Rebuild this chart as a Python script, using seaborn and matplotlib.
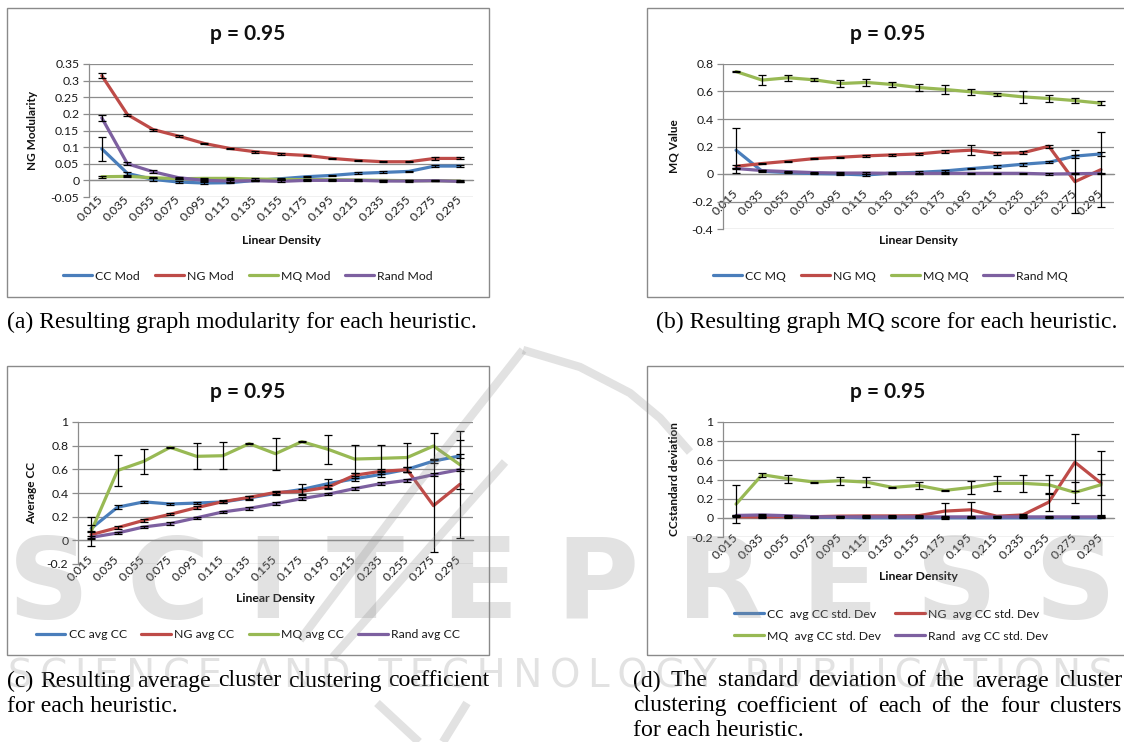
import numpy as np
import pandas as pd
import matplotlib
matplotlib.use("Agg")
import matplotlib.pyplot as plt
import seaborn as sns
from matplotlib.patches import Rectangle
from matplotlib.lines import Line2D
from matplotlib.ticker import FuncFormatter, MultipleLocator

# ---------------- data ----------------
densities = ["0.015", "0.035", "0.055", "0.075", "0.095", "0.115", "0.135", "0.155",
             "0.175", "0.195", "0.215", "0.235", "0.255", "0.275", "0.295"]

# (a) NG modularity
cc_mod = [0.095, 0.021, 0.003, -0.005, -0.008, -0.007, 0.000, 0.005, 0.011, 0.015, 0.021, 0.024, 0.027, 0.043, 0.043]
ng_mod = [0.315, 0.198, 0.153, 0.133, 0.111, 0.096, 0.086, 0.079, 0.075, 0.066, 0.060, 0.056, 0.056, 0.066, 0.066]
mq_mod = [0.011, 0.012, 0.008, 0.005, 0.006, 0.006, 0.004, 0.003, 0.002, 0.002, 0.001, 0.000, -0.001, -0.001, -0.002]
rand_mod = [0.188, 0.050, 0.026, 0.008, 0.000, -0.002, -0.001, -0.003, 0.000, 0.000, 0.000, -0.002, -0.002, -0.001, -0.003]
cc_mod_err = [0.036, 0.004, 0.004, 0.004, 0.002, 0.002, 0.002, 0.002, 0.001, 0.002, 0.003, 0.003, 0.002, 0.003, 0.004]
ng_mod_err = [0.008, 0.003, 0.003, 0.003, 0.002, 0.002, 0.003, 0.002, 0.002, 0.002, 0.002, 0.002, 0.002, 0.004, 0.003]
mq_mod_err = [0.003, 0.002, 0.002, 0.002, 0.002, 0.002, 0.002, 0.002, 0.002, 0.002, 0.002, 0.002, 0.002, 0.002, 0.002]
rand_mod_err = [0.008, 0.005, 0.004, 0.003, 0.002, 0.002, 0.002, 0.003, 0.002, 0.002, 0.002, 0.002, 0.002, 0.002, 0.002]

# (b) MQ value
cc_mq = [0.173, 0.020, 0.010, 0.003, 0.000, -0.007, 0.007, 0.012, 0.022, 0.039, 0.054, 0.071, 0.085, 0.130, 0.146]
ng_mq = [0.056, 0.076, 0.093, 0.112, 0.122, 0.132, 0.139, 0.146, 0.163, 0.173, 0.151, 0.154, 0.202, -0.056, 0.032]
mq_mq = [0.745, 0.683, 0.700, 0.685, 0.658, 0.666, 0.651, 0.629, 0.615, 0.598, 0.580, 0.561, 0.549, 0.534, 0.515]
rand_mq = [0.040, 0.025, 0.017, 0.010, 0.007, 0.007, 0.005, 0.005, 0.005, 0.005, 0.005, 0.005, 0.000, 0.002, 0.005]
cc_mq_err = [0.165, 0.008, 0.005, 0.005, 0.005, 0.005, 0.008, 0.010, 0.005, 0.005, 0.008, 0.012, 0.008, 0.010, 0.012]
ng_mq_err = [0.010, 0.005, 0.005, 0.005, 0.005, 0.005, 0.005, 0.010, 0.010, 0.035, 0.010, 0.012, 0.010, 0.228, 0.275]
mq_mq_err = [0.005, 0.035, 0.022, 0.010, 0.025, 0.025, 0.015, 0.022, 0.030, 0.020, 0.010, 0.045, 0.025, 0.020, 0.015]
rand_mq_err = [0.005, 0.005, 0.005, 0.005, 0.005, 0.005, 0.005, 0.005, 0.005, 0.005, 0.005, 0.005, 0.005, 0.005, 0.005]

# (c) average CC
cc_cc = [0.100, 0.280, 0.325, 0.307, 0.315, 0.324, 0.358, 0.397, 0.430, 0.479, 0.520, 0.557, 0.600, 0.670, 0.713]
ng_cc = [0.048, 0.107, 0.169, 0.220, 0.276, 0.327, 0.363, 0.405, 0.414, 0.450, 0.550, 0.583, 0.597, 0.293, 0.473]
mq_cc = [0.075, 0.590, 0.668, 0.786, 0.710, 0.715, 0.817, 0.732, 0.834, 0.769, 0.687, 0.693, 0.700, 0.797, 0.640]
rand_cc = [0.025, 0.062, 0.113, 0.141, 0.190, 0.240, 0.270, 0.310, 0.352, 0.390, 0.437, 0.479, 0.507, 0.555, 0.597]
cc_cc_err = [0.030, 0.015, 0.010, 0.010, 0.010, 0.010, 0.015, 0.015, 0.050, 0.040, 0.020, 0.020, 0.020, 0.020, 0.020]
ng_cc_err = [0.030, 0.010, 0.010, 0.010, 0.010, 0.010, 0.010, 0.010, 0.020, 0.020, 0.020, 0.020, 0.020, 0.390, 0.450]
mq_cc_err = [0.120, 0.127, 0.105, 0.005, 0.110, 0.115, 0.005, 0.135, 0.005, 0.120, 0.120, 0.110, 0.120, 0.110, 0.210]
rand_cc_err = [0.010, 0.010, 0.010, 0.010, 0.010, 0.010, 0.010, 0.010, 0.010, 0.010, 0.010, 0.010, 0.010, 0.010, 0.010]

# (d) CC standard deviation
cc_sd = [0.020, 0.010, 0.008, 0.005, 0.005, 0.000, 0.000, 0.000, 0.000, 0.000, 0.000, 0.000, 0.000, 0.000, 0.000]
ng_sd = [0.012, 0.008, 0.012, 0.012, 0.018, 0.020, 0.020, 0.022, 0.070, 0.084, 0.017, 0.030, 0.164, 0.580, 0.363]
mq_sd = [0.143, 0.450, 0.408, 0.373, 0.387, 0.373, 0.317, 0.338, 0.286, 0.317, 0.360, 0.360, 0.345, 0.265, 0.345]
rand_sd = [0.025, 0.030, 0.022, 0.012, 0.010, 0.010, 0.010, 0.010, 0.010, 0.010, 0.010, 0.010, 0.010, 0.010, 0.010]
cc_sd_err = [0.005, 0.005, 0.005, 0.005, 0.005, 0.005, 0.005, 0.005, 0.005, 0.005, 0.005, 0.005, 0.005, 0.005, 0.005]
ng_sd_err = [0.005, 0.005, 0.005, 0.005, 0.005, 0.005, 0.005, 0.005, 0.080, 0.085, 0.005, 0.005, 0.090, 0.295, 0.335]
mq_sd_err = [0.200, 0.020, 0.040, 0.005, 0.040, 0.050, 0.005, 0.040, 0.005, 0.070, 0.080, 0.090, 0.100, 0.105, 0.110]
rand_sd_err = [0.005, 0.005, 0.005, 0.005, 0.005, 0.005, 0.005, 0.005, 0.005, 0.005, 0.005, 0.005, 0.005, 0.005, 0.005]

legend_a = ["CC Mod", "NG Mod", "MQ Mod", "Rand Mod"]
legend_b = ["CC MQ", "NG MQ", "MQ MQ", "Rand MQ"]
legend_c = ["CC avg CC", "NG avg CC", "MQ avg CC", "Rand avg CC"]
legend_d = ["CC  avg CC std. Dev", "NG  avg CC std. Dev", "MQ  avg CC std. Dev", "Rand  avg CC std. Dev"]

caption_a = "(a) Resulting graph modularity for each heuristic."
caption_b = "(b) Resulting graph MQ score for each heuristic."
caption_c = ["(c) Resulting average cluster clustering coefficient", "for each heuristic."]
caption_d = ["(d) The standard deviation of the average cluster",
             "clustering coefficient of each of the four clusters",
             "for each heuristic."]

watermark_big = "SCITEPRESS"
watermark_small = "SCIENCE AND TECHNOLOGY PUBLICATIONS"

# ---------------- style ----------------
W, H = 1124, 742
sns.set_theme(style="white")
plt.rcParams['font.family'] = ['Lato', 'DejaVu Sans']
COLORS = ["#4A7EBB", "#BE4B48", "#98B954", "#7D60A0"]
GRID = "#8c8c8c"

fig = plt.figure(figsize=(W / 100, H / 100), dpi=100)
renderer = fig.canvas.get_renderer()


def fx(px):
    return px / W


def fy(py):
    return 1 - py / H


def fmt(v, pos):
    v = round(v, 4)
    if v == 0:
        return "0"
    return f"{v:g}"


def panel(box, plot, series, values, errors, ylim, step, ylabel, ylabel_x,
          title_y, xlabel_y, legend_xy, ncol=4, legend_order=None):
    l, t, r, b = box
    fig.patches.append(Rectangle((fx(l), fy(b)), fx(r - l), (b - t) / H,
                                 transform=fig.transFigure, fill=False,
                                 edgecolor="#8a8a8a", lw=1.0, zorder=0))
    pl, pt, pr, pb = plot
    ax = fig.add_axes([fx(pl), fy(pb), fx(pr - pl), (pb - pt) / H])
    df = pd.DataFrame({
        "Linear Density": np.tile(densities, len(series)),
        "value": np.concatenate(values),
        "series": np.repeat(series, len(densities)),
    })
    sns.lineplot(data=df, x="Linear Density", y="value", hue="series",
                 palette=COLORS, sort=False, estimator=None, lw=2.3,
                 ax=ax, legend=False, zorder=3)
    for vals, errs in zip(values, errors):
        ax.errorbar(densities, vals, yerr=errs, fmt="none", ecolor="black",
                    elinewidth=0.9, capsize=2.6, capthick=0.9, zorder=4)
    ax.set_xlim(-0.5, len(densities) - 0.5)
    ax.set_ylim(*ylim)
    ax.yaxis.set_major_locator(MultipleLocator(step))
    ax.yaxis.set_major_formatter(FuncFormatter(fmt))
    ax.yaxis.grid(True, color=GRID, lw=0.9)
    ax.xaxis.grid(False)
    ax.set_axisbelow(True)
    for s in ["top", "right"]:
        ax.spines[s].set_visible(False)
    ax.spines["left"].set_color(GRID)
    ax.spines["left"].set_linewidth(0.9)
    ax.spines["bottom"].set_position(("data", 0))
    ax.spines["bottom"].set_color(GRID)
    ax.spines["bottom"].set_linewidth(0.9)
    ax.tick_params(axis="y", length=4, width=0.9, color=GRID, labelsize=8.8,
                   labelcolor="#1a1a1a", pad=3, left=True)
    ax.tick_params(axis="x", length=0, labelsize=8.8, labelcolor="#1a1a1a", pad=12.5)
    for lab in ax.get_xticklabels():
        lab.set_rotation(45)
        lab.set_ha("right")
        lab.set_va("center")
        lab.set_rotation_mode("anchor")
    ax.set_xlabel("")
    ax.set_ylabel("")
    cx = (l + r) / 2 if r < W else (l + 1129) / 2
    fig.text(fx(cx), fy(title_y), "p = 0.95", ha="center", va="center",
             fontsize=15, fontweight="bold", color="#111111")
    fig.text(fx((pl + pr) / 2), fy(xlabel_y), "Linear Density", ha="center",
             va="center", fontsize=8.8, fontweight="bold", color="#111111")
    fig.text(fx(ylabel_x), fy((pt + pb) / 2), ylabel, ha="center", va="center",
             rotation=90, fontsize=8.5, fontweight="bold", color="#111111")
    handles = [Line2D([0], [0], color=c, lw=2.3) for c in COLORS]
    labels = list(series)
    if legend_order is not None:
        handles = [handles[i] for i in legend_order]
        labels = [labels[i] for i in legend_order]
    ax.legend(handles, labels, loc="center", bbox_to_anchor=(fx(legend_xy[0]), fy(legend_xy[1])),
              bbox_transform=fig.transFigure, ncol=ncol, frameon=False,
              fontsize=8.8, handlelength=2.4, handletextpad=0.25,
              columnspacing=1.2, labelspacing=0.9, labelcolor="#1a1a1a")
    return ax


panel((7, 8, 489, 297), (89, 64, 473, 197), legend_a,
      [cc_mod, ng_mod, mq_mod, rand_mod],
      [cc_mod_err, ng_mod_err, mq_mod_err, rand_mod_err],
      (-0.05, 0.35), 0.05, "NG Modularity", 33, 34, 241, (248, 276))

panel((647, 8, 1130, 297), (723, 64, 1114, 229), legend_b,
      [cc_mq, ng_mq, mq_mq, rand_mq],
      [cc_mq_err, ng_mq_err, mq_mq_err, rand_mq_err],
      (-0.4, 0.8), 0.2, "MQ Value", 674, 34, 241, (890, 276))

panel((7, 366, 489, 655), (78, 422, 473, 564), legend_c,
      [cc_cc, ng_cc, mq_cc, rand_cc],
      [cc_cc_err, ng_cc_err, mq_cc_err, rand_cc_err],
      (-0.2, 1.0), 0.2, "Average CC", 32, 392, 598, (248, 635))

panel((647, 366, 1130, 655), (723, 422, 1114, 537), legend_d,
      [cc_sd, ng_sd, mq_sd, rand_sd],
      [cc_sd_err, ng_sd_err, mq_sd_err, rand_sd_err],
      (-0.2, 1.0), 0.2, "CCstandard deviation", 674, 392, 577, (891, 625),
      ncol=2, legend_order=[0, 2, 1, 3])

# ---------------- captions ----------------
probe = fig.text(0, 0, caption_a, family="Liberation Serif", fontsize=16)
w16 = probe.get_window_extent(renderer).width
probe.remove()
CAP_FS = 16 * 471.0 / w16
serif = dict(family="Liberation Serif", fontsize=CAP_FS, color="black", va="center")


def justified(line, x0, x1, y):
    words = line.split(" ")
    texts = [fig.text(0, fy(y), w, **serif) for w in words]
    widths = [t.get_window_extent(renderer).width for t in texts]
    gap = (x1 - x0 - sum(widths)) / (len(words) - 1)
    x = x0
    for t, w in zip(texts, widths):
        t.set_x(fx(x))
        x += w + gap


fig.text(fx(7), fy(322), caption_a, **serif)
fig.text(fx(656), fy(322), caption_b, **serif)
justified(caption_c[0], 7, 489, 681)
fig.text(fx(7), fy(706), caption_c[1], **serif)
justified(caption_d[0], 633, 1122, 681)
justified(caption_d[1], 633, 1122, 706)
fig.text(fx(633), fy(731), caption_d[2], **serif)

# ---------------- watermark ----------------
wm = dict(color="#8f8f8f", alpha=0.26, zorder=10)


def fitted_text(s, x0, x1, y, size0, **kw):
    t = fig.text(fx(x0), fy(y), s, ha="left", va="baseline", fontsize=size0, **kw)
    w = t.get_window_extent(renderer).width
    t.set_fontsize(size0 * (x1 - x0) / w)
    return t


fitted_text("\u2004".join(watermark_big), 8, 1116, 618, 80,
            fontweight="bold", family="DejaVu Sans", **wm)
fitted_text("\u2009".join(watermark_small), 8, 1116, 688, 22,
            family="DejaVu Sans", **wm)
for pts in [[(523, 350), (413, 490), (300, 640)],
            [(505, 462), (333, 657)],
            [(523, 350), (580, 367), (630, 393), (660, 418), (690, 452)],
            [(377, 703), (419, 742)], [(467, 703), (443, 742)]]:
    xs = [fx(p[0]) for p in pts]
    ys = [fy(p[1]) for p in pts]
    fig.lines.append(Line2D(xs, ys, transform=fig.transFigure, lw=6,
                            solid_capstyle="butt", **wm))

fig.savefig("out.png", dpi=100)
